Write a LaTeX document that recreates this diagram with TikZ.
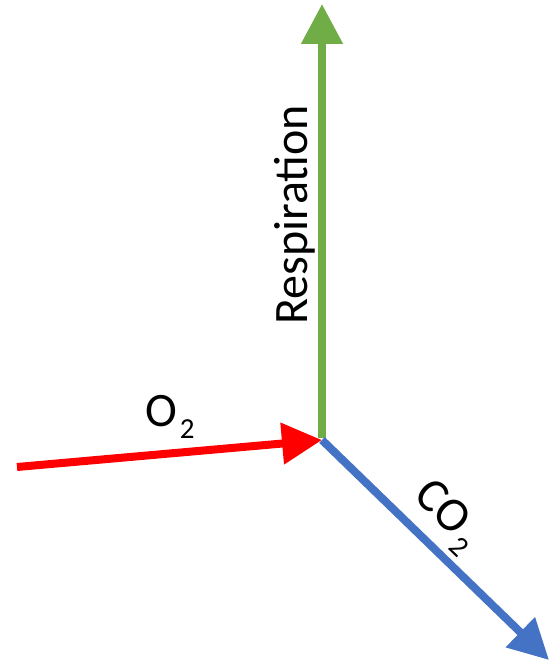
\documentclass[tikz,border=0pt]{standalone}
\usepackage{fontspec}
\setmainfont{Carlito}
\usetikzlibrary{arrows.meta}
\definecolor{resgreen}{HTML}{70AD47}
\definecolor{co2blue}{HTML}{4472C4}
\newcommand{\subtwo}{\raisebox{-12pt}{\fontsize{29}{29}\selectfont 2}}
\begin{document}
\begin{tikzpicture}[x=1pt,y=-1pt,
  flow/.style={line width=8pt,-{Triangle[length=40pt,width=40pt]}},
  lbl/.style={inner sep=0pt,font=\fontsize{48}{48}\selectfont}]
\useasboundingbox (0,0) rectangle (549,668);
\coordinate (hub) at (322,440);
\coordinate (hubtop) at (322,438);
\coordinate (rstart) at (17,467);
\coordinate (gtip) at (322,4);
\coordinate (btip) at (549,660);
\draw[flow,draw=resgreen,fill=resgreen] (hubtop) -- (gtip);
\draw[flow,draw=red,fill=red] (rstart) -- (hub);
\draw[flow,draw=co2blue,fill=co2blue] (hub) -- (btip);
\node[lbl,rotate=90,anchor=base] (resp) at (307,215) {Respiration};
\node[lbl,anchor=base west] (o2) at (145,426) {O\kern3pt\subtwo};
\node[lbl,rotate=-44,anchor=center] (co2) at (446,517) {CO\kern3pt\subtwo};
\end{tikzpicture}
\end{document}
